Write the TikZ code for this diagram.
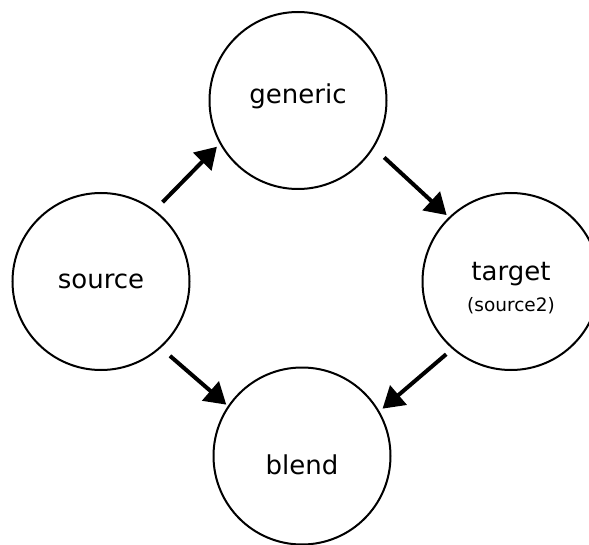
\documentclass[tikz,border=0pt]{standalone}
\usepackage{fontspec}
\setmainfont{DejaVu Sans}
\usetikzlibrary{arrows.meta}

\begin{document}
\begin{tikzpicture}[
    x=1pt, y=-1pt,
    space/.style={
        draw,
        circle,
        line width=2pt,
        minimum size=177pt,
        inner sep=0pt,
        align=center,
        font=\fontsize{26}{31}\selectfont
    },
    edge/.style={-{Triangle[length=21pt, width=25pt]}, line width=4pt}
]
\useasboundingbox (0,0) rectangle (589,545);

\node[space, text height=13pt, text depth=6pt] (generic) at (298,100.5) {generic};
\node[space] (source) at (101,281.5) {source};
\node[space, text height=63pt] (target) at (511,281.5) {target\\{\fontsize{18.5}{22}\selectfont (source2)}};
\node[space, text height=37pt, text depth=0pt] (blend) at (302,456) {blend};

\draw[edge, shorten <=11pt, shorten >=4pt] (source.53.5) -- (generic.209);
\draw[edge, shorten <=14pt, shorten >=3pt] (generic.-32) -- (target.134.4);
\draw[edge, shorten <=12pt, shorten >=2pt] (source.-48.1) -- (blend.146);
\draw[edge, shorten <=8pt, shorten >=4pt] (target.229.7) -- (blend.30.8);
\end{tikzpicture}
\end{document}
